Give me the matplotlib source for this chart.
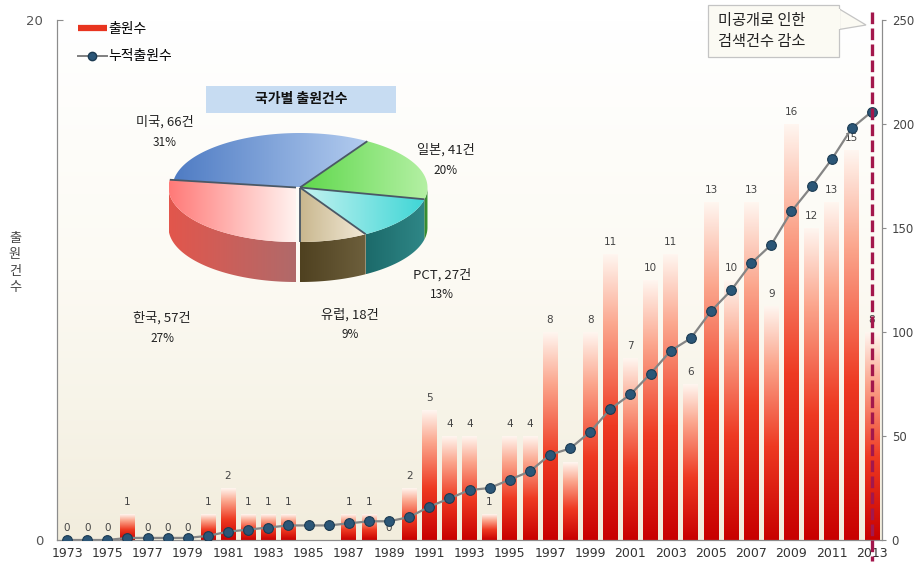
import numpy as np
import matplotlib
matplotlib.use("Agg")
import matplotlib.pyplot as plt
from matplotlib.colors import LinearSegmentedColormap, to_rgb
from matplotlib.patches import Polygon, Rectangle
from matplotlib.lines import Line2D

plt.rcParams['font.family'] = ['Noto Sans CJK KR', 'DejaVu Sans']

# yearly filings and running total
years = list(range(1973, 2014))
filings = [0, 0, 0, 1, 0, 0, 0, 1, 2, 1,
           1, 1, 0, 0, 1, 1, 0, 2, 5, 4,
           4, 1, 4, 4, 8, 3, 8, 11, 7, 10,
           11, 6, 13, 10, 13, 9, 16, 12, 13, 15,
           8]
cumulative = [0, 0, 0, 1, 1, 1, 1, 2, 4, 5,
              6, 7, 7, 7, 8, 9, 9, 11, 16, 20,
              24, 25, 29, 33, 41, 44, 52, 63, 70, 80,
              91, 97, 110, 120, 133, 142, 158, 170, 183, 198,
              206]
year_ticks = list(range(1973, 2014, 2))

# filings by country (counter-clockwise from the front)
countries = ['유럽', 'PCT', '일본', '미국', '한국']
country_counts = [18, 27, 41, 66, 57]
country_shares = ['9%', '13%', '20%', '31%', '27%']

W, H = 917, 566
fig = plt.figure(figsize=(W / 100, H / 100), dpi=100)
fig.patch.set_facecolor('white')

ax = fig.add_axes([57 / W, 26 / H, 825 / W, 520 / H])
ax2 = ax.twinx()

x0, x1 = 1972.5, 2013.5
ax.set_xlim(x0, x1)
ax.set_ylim(0, 20)
ax2.set_ylim(0, 250)

# cream background fading to white at the top
bg_cmap = LinearSegmentedColormap.from_list('bg', ['#ffffff', '#fcfaf3', '#f2eddd'])
ax.imshow(np.linspace(1, 0, 256).reshape(-1, 1), cmap=bg_cmap, aspect='auto',
          extent=[x0, x1, 0, 20], origin='lower', zorder=0)

# bars with red-to-white gradient
bar_cmap = LinearSegmentedColormap.from_list(
    'bar', [(0, '#c80000'), (0.4, '#ee3a22'), (0.75, '#fba58c'), (1, '#fff6f0')])
grad = np.linspace(0, 1, 256).reshape(-1, 1)
bw = 0.73
bars = ax.bar(years, filings, width=bw, color='none', edgecolor='none', zorder=2)
for b, yr, v in zip(bars, years, filings):
    if v > 0:
        im = ax.imshow(grad, cmap=bar_cmap, aspect='auto', origin='lower',
                       extent=[yr - bw / 2, yr + bw / 2, 0, v], zorder=2)
        im.set_clip_path(b)
    ax.annotate(str(v), (yr, v), xytext=(0, 5), textcoords='offset points',
                ha='center', va='bottom', fontsize=7.5, color='#444444',
                family='DejaVu Sans', zorder=3)
ax.set_xlim(x0, x1)
ax.set_ylim(0, 20)

# running total on the right axis
ax2.plot(years, cumulative, color='#858585', lw=1.6, zorder=4,
         marker='o', markersize=7, markerfacecolor='#2b5677',
         markeredgecolor='#1c3b52', markeredgewidth=0.8)

# dashed marker for the last year
ax2.plot([2013, 2013], [254, -10], color='#a3174c', lw=2.4,
         dashes=(3.5, 1.3), clip_on=False, zorder=5)

for a in (ax, ax2):
    a.spines['top'].set_visible(False)
    for s in ('left', 'right', 'bottom'):
        a.spines[s].set_color('#8c8c8c')
ax.set_xticks(year_ticks)
ax.set_xticklabels([str(y) for y in year_ticks], family='DejaVu Sans')
ax.tick_params(axis='x', length=0, pad=5, labelsize=9, colors='#333333')
ax.set_yticks([0, 20])
ax.tick_params(axis='y', direction='in', length=4, labelsize=9.5,
               colors='#8c8c8c', labelcolor='#555555', pad=10)
ax2.set_yticks(range(0, 251, 50))
ax2.tick_params(axis='y', direction='out', length=3, labelsize=8.5,
                colors='#8c8c8c', labelcolor='#444444', pad=4)
for lab in ax.get_yticklabels() + ax2.get_yticklabels():
    lab.set_family('DejaVu Sans')

fig.text(15 / W, 1 - 263 / H, '출\n원\n건\n수', ha='center', va='center',
         fontsize=9.5, color='#444444', linespacing=1.35)

ax.legend(handles=[
    Line2D([], [], color='#e8341f', lw=4.5, solid_capstyle='butt'),
    Line2D([], [], color='#7f7f7f', lw=1.4, marker='o', markersize=6,
           markerfacecolor='#2b5677', markeredgecolor='#1c3b52')],
    labels=['출원수', '누적출원수'], loc='upper left',
    bbox_to_anchor=(72 / W, 1 - 16 / H), bbox_transform=fig.transFigure,
    frameon=False, fontsize=10, handlelength=2.1, handletextpad=0.1,
    labelspacing=1.0, borderaxespad=0)

# overlay in pixel coordinates for the pie inset and the callout
ov = fig.add_axes([0, 0, 1, 1], zorder=10)
ov.set_facecolor('none')
ov.axis('off')


def fill_gradient(pts, c0, c1, zorder, edge=None):
    pts = np.asarray(pts)
    poly = Polygon(pts, closed=True, facecolor='none', edgecolor='none')
    ov.add_patch(poly)
    xa, xb = pts[:, 0].min(), pts[:, 0].max()
    ya, yb = pts[:, 1].min(), pts[:, 1].max()
    cm = LinearSegmentedColormap.from_list('g', [to_rgb(c0), to_rgb(c1)])
    im = ov.imshow(np.linspace(0, 1, 128).reshape(1, -1), cmap=cm, aspect='auto',
                   extent=[xa, xb, yb, ya], origin='upper', zorder=zorder)
    im.set_clip_path(poly)
    if edge:
        ov.add_patch(Polygon(pts, closed=True, facecolor='none',
                             edgecolor=edge, lw=0.8, zorder=zorder + 0.1))


cx, cy, rx, ry, depth = 300, 187.5, 127.5, 54.5, 40
top_colors = {'유럽': ('#c9b78e', '#f2ead8'), 'PCT': ('#c6f3f1', '#3fd6d6'),
              '일본': ('#5fd84c', '#b4f0a4'), '미국': ('#4f7cc4', '#b3ccef'),
              '한국': ('#ff7a78', '#fff3f0')}
side_colors = {'유럽': ('#4f4120', '#6d5f3c'), 'PCT': ('#1c6a6a', '#2f8787'),
               '일본': ('#2f7f2a', '#3f9a38'), '미국': ('#355c9a', '#4a72b0'),
               '한국': ('#e2564c', '#b06a6a')}
offsets = {'한국': (-4, 0)}

total = sum(country_counts)
bounds = 270 + 360 * np.concatenate([[0], np.cumsum(country_counts)]) / total


def rim(t, dx, dy, drop=0.0):
    t = np.radians(t)
    return np.column_stack([cx + dx + rx * np.cos(t), cy + dy - ry * np.sin(t) + drop])


for name, t0, t1 in zip(countries, bounds[:-1], bounds[1:]):
    dx, dy = offsets.get(name, (0, 0))
    # visible side walls (front half of the ellipse)
    for w0, w1 in ((180, 360), (540, 720)):
        a, b = max(t0, w0), min(t1, w1)
        if b > a:
            ts = np.linspace(a, b, 60)
            wall = np.vstack([rim(ts, dx, dy), rim(ts[::-1], dx, dy, depth)])
            fill_gradient(wall, *side_colors[name], zorder=2)
    ts = np.linspace(t0, t1, 80)
    top = np.vstack([[[cx + dx, cy + dy]], rim(ts, dx, dy)])
    fill_gradient(top, *top_colors[name], zorder=3)
    ov.plot([cx + dx, rim(t0, dx, dy)[0, 0]], [cy + dy, rim(t0, dx, dy)[0, 1]],
            color='#4a5866', lw=1.3, zorder=4, solid_capstyle='butt')

label_pos = {'미국': (165, 122), '일본': (446, 150), 'PCT': (442, 275),
             '유럽': (350, 315), '한국': (162, 318)}
for name, n, share in zip(countries, country_counts, country_shares):
    lx, ly = label_pos[name]
    ov.text(lx, ly, f'{name}, {n}건', ha='center', va='center', fontsize=9.5,
            color='#222222', zorder=6)
    ov.text(lx, ly + 20, share, ha='center', va='center', fontsize=8.5,
            color='#222222', zorder=6)

ov.add_patch(Rectangle((206, 86), 190, 27, facecolor='#c7dcf2', edgecolor='none', zorder=5))
ov.text(301, 99.5, '국가별 출원건수', ha='center', va='center', fontsize=10,
        fontweight='bold', color='#111111', zorder=6)

# callout next to the dashed marker
ov.add_patch(Polygon([(836, 7), (866, 25), (836, 30)], closed=True,
                     facecolor='#fbfaf3', edgecolor='#c4c4c4', lw=0.9, zorder=6))
ov.add_patch(Rectangle((708, 5), 131, 52, facecolor='#fbfaf3', edgecolor='#c4c4c4',
                       lw=0.9, zorder=6))
ov.add_patch(Rectangle((837, 8.5), 3, 20.5, facecolor='#fbfaf3', edgecolor='none', zorder=6.5))
ov.text(718, 31, '미공개로 인한\n검색건수 감소', ha='left', va='center', fontsize=11,
        color='#222222', linespacing=1.25, zorder=7)

ov.set_xlim(0, W)
ov.set_ylim(H, 0)

fig.savefig('out.png', dpi=100)
